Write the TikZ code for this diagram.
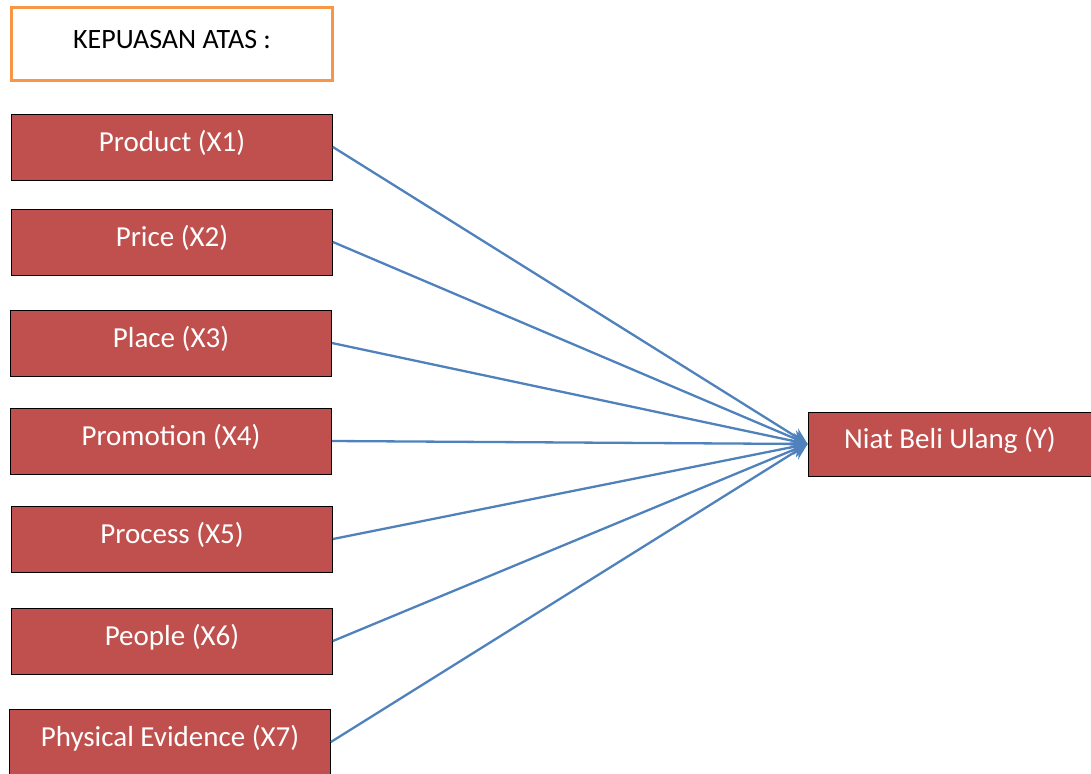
\documentclass[tikz,border=0pt]{standalone}
\usepackage{fontspec}
\setmainfont{Carlito}
\usetikzlibrary{positioning}
\usetikzlibrary{arrows.meta}
\definecolor{boxred}{HTML}{C0504D}
\definecolor{arrowblue}{HTML}{4F81BD}
\definecolor{frameorange}{HTML}{F79646}

\begin{document}
\begin{tikzpicture}[x=1pt, y=-1pt,
	style={align=center},
	varbox/.style={draw=black, line width=0.8pt, fill=boxred, text=white, minimum width=321pt, minimum height=66pt, inner sep=0pt, text height=20pt, text depth=11pt, font=\fontsize{29}{34}\selectfont},
	link/.style={draw=arrowblue, line width=2.3pt, -{Stealth[length=16pt, width=16pt]}}]
	\useasboundingbox (0,0) rectangle (1091,773);
	\node[draw=frameorange, line width=3.5pt, fill=white, minimum width=321pt, minimum height=73pt, inner sep=0pt, text height=20pt, text depth=10pt, font=\fontsize{28}{34}\selectfont] (title) at (172,44) {KEPUASAN ATAS :};
	\node[varbox] (prod) at (172,147) {Product (X1)};
	\node[varbox] (price) at (172,242) {Price (X2)};
	\node[varbox] (place) at (171,343) {Place (X3)};
	\node[varbox] (promo) at (171,441) {Promotion (X4)};
	\node[varbox] (proc) at (172,539) {Process (X5)};
	\node[varbox] (people) at (172,641) {People (X6)};
	\node[varbox] (phys) at (170,742) {Physical Evidence (X7)};
	\node[varbox, minimum width=284pt, minimum height=64pt] (niat) at (950,444) {Niat Beli Ulang (Y)};
	\draw[link] (prod.east) -- (niat.west);
	\draw[link] (price.east) -- (niat.west);
	\draw[link] (place.east) -- (niat.west);
	\draw[link] (promo.east) -- (niat.west);
	\draw[link] (proc.east) -- (niat.west);
	\draw[link] (people.east) -- (niat.west);
	\draw[link] (phys.east) -- (niat.west);
\end{tikzpicture}
\end{document}
